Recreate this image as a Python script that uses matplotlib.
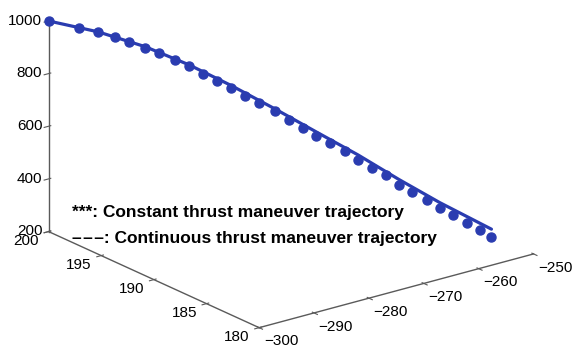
import matplotlib
matplotlib.use("Agg")
import matplotlib.pyplot as plt

# Constant thrust maneuver trajectory (markers)
x_const = [-300.0, -296.6, -294.4, -292.5, -290.9, -289.1, -287.5, -285.8, -284.2, -282.6,
           -281.0, -279.4, -277.8, -276.2, -274.5, -272.9, -271.3, -269.8, -268.2, -266.6,
           -265.1, -263.5, -262.0, -260.5, -259.0, -257.3, -255.8, -254.3, -252.8, -251.4,
           -250.0]
y_const = [200.0, 198.9, 198.2, 197.6, 197.1, 196.5, 196.0, 195.4, 194.9, 194.4,
           193.9, 193.4, 192.9, 192.4, 191.8, 191.3, 190.8, 190.3, 189.8, 189.3,
           188.8, 188.3, 187.8, 187.3, 186.9, 186.3, 185.9, 185.4, 184.9, 184.4,
           184.0]
z_const = [1000, 974, 959, 941, 923, 901, 880, 857, 832, 803,
           778, 750, 722, 694, 663, 631, 600, 571, 543, 514,
           481, 449, 423, 389, 361, 332, 301, 273, 244, 217,
           193]

# Continuous thrust maneuver trajectory (line)
x_cont = [-300.0, -294.4, -289.1, -284.2, -279.4, -274.5, -269.8, -265.1, -260.5, -255.8, -250.0]
y_cont = [200.0, 198.2, 196.5, 194.9, 193.4, 191.8, 190.3, 188.8, 187.3, 185.9, 184.0]
z_cont = [1000, 960, 905, 838, 760, 673, 586, 500, 408, 320, 221]

x_ticks = [-300, -290, -280, -270, -260, -250]
y_ticks = [180, 185, 190, 195, 200]
z_ticks = [200, 400, 600, 800, 1000]

legend_lines = ["***: Constant thrust maneuver trajectory",
                "\u2013\u200a\u2013\u200a\u2013: Continuous thrust maneuver trajectory"]

plt.rcParams['font.family'] = ['Liberation Sans', 'DejaVu Sans']

W, H = 577, 345
s = 1.515
cx, cy = 284, 144.5
fig = plt.figure(figsize=(W / 100, H / 100), dpi=100)
ax = fig.add_axes([cx / W - s / 2, (H - cy) / H - s / 2, s, s], projection='3d')
ax.set_proj_type('ortho')
ax.view_init(elev=20.5, azim=-127.5)
ax.set_box_aspect((1, 1, 0.65))

blue = '#2A3CB0'
ax.plot(x_cont, y_cont, z_cont, color=blue, lw=2.3, solid_capstyle='round')
ax.plot(x_const, y_const, z_const, linestyle='none', marker='o', ms=6.5, color=blue)

ax.set_xlim(-300, -250)
ax.set_ylim(180, 200)
ax.set_zlim(200, 1000)
ax.set_xticks(x_ticks)
ax.set_yticks(y_ticks)
ax.set_zticks(z_ticks)
ax.grid(False)
for axis in (ax.xaxis, ax.yaxis, ax.zaxis):
    axis.set_pane_color((1, 1, 1, 0))
    axis.pane.set_edgecolor((1, 1, 1, 0))
    axis.line.set_color('#5a5a5a')
    axis.line.set_linewidth(1.0)
    axis.set_tick_params(labelsize=11, colors='#5a5a5a', labelcolor='black')
ax.xaxis.set_tick_params(pad=-3.7)
ax.yaxis.set_tick_params(pad=-1.3)
ax.zaxis.set_tick_params(pad=-5.5)
for lbl in ax.xaxis.get_ticklabels():
    lbl.set_ha('left')
for lbl in ax.yaxis.get_ticklabels():
    lbl.set_ha('right')
    lbl.set_va('center')
for lbl in ax.zaxis.get_ticklabels():
    lbl.set_ha('right')
    lbl.set_va('center')

for i, t in enumerate(legend_lines):
    fig.text(72 / W, 1 - (212 + 26 * i) / H, t, fontsize=12.55, fontweight='bold',
             va='center', ha='left')

fig.savefig('out.png', dpi=100)
